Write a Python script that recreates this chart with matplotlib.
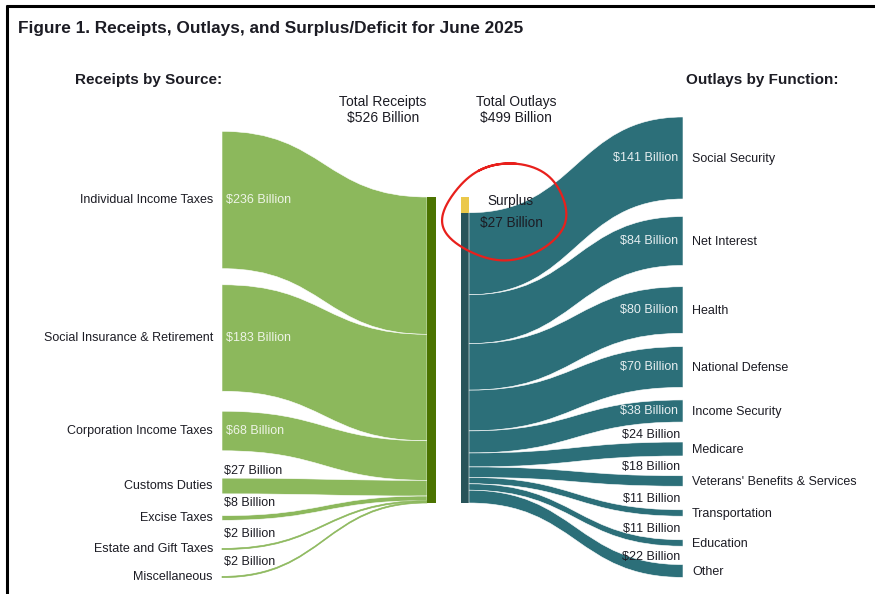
import numpy as np
import matplotlib
matplotlib.use("Agg")
import matplotlib.pyplot as plt
from matplotlib.path import Path
from matplotlib.patches import PathPatch, Rectangle

plt.rcParams['font.family'] = ['Liberation Sans', 'DejaVu Sans']

# Data (billions of dollars)
receipt_names = ["Individual Income Taxes", "Social Insurance & Retirement",
                 "Corporation Income Taxes", "Customs Duties", "Excise Taxes",
                 "Estate and Gift Taxes", "Miscellaneous"]
receipt_vals = [236, 183, 68, 27, 8, 2, 2]

outlay_names = ["Social Security", "Net Interest", "Health", "National Defense",
                "Income Security", "Medicare", "Veterans' Benefits & Services",
                "Transportation", "Education", "Other"]
outlay_vals = [141, 84, 80, 70, 38, 24, 18, 11, 11, 22]

total_receipts = 526
total_outlays = 499
surplus = 27

# layout (pixel space): node centres for each side
left_centres = [200, 338, 431, 486, 518, 549, 577]
right_centres = [158, 241, 310, 367, 411, 449, 481, 513, 543, 571]

green = '#8cb85c'
dark_green = '#4b7300'
teal = '#2c6f79'
dark_teal = '#28545a'
yellow = '#ebc84a'
txt = '#1c1c24'

fig = plt.figure(figsize=(8.75, 5.94), dpi=100)
ax = fig.add_axes([0, 0, 1, 1])
ax.set_xlim(0, 875)
ax.set_ylim(594, 0)
ax.axis('off')

bar_top, bar_bot = 197, 503
s = (bar_bot - bar_top) / total_receipts  # px per billion


def band(x0, a0, b0, x1, a1, b1, color):
    xm = (x0 + x1) / 2
    verts = [(x0, a0), (xm, a0), (xm, a1), (x1, a1),
             (x1, b1), (xm, b1), (xm, b0), (x0, b0), (x0, a0)]
    codes = [Path.MOVETO, Path.CURVE4, Path.CURVE4, Path.CURVE4,
             Path.LINETO, Path.CURVE4, Path.CURVE4, Path.CURVE4, Path.CLOSEPOLY]
    thin = abs(b0 - a0) < 3
    ax.add_patch(PathPatch(Path(verts, codes), facecolor=color,
                           edgecolor=color if thin else 'white',
                           lw=0.5 if thin else 0.4))


# receipts side
xl0, xl1 = 222, 427
y = bar_top
for name, v, c in zip(receipt_names, receipt_vals, left_centres):
    h = v * s
    band(xl0, c - h / 2, c + h / 2, xl1, y, y + h, green)
    y += h
    ax.text(213, c, name, ha='right', va='center', fontsize=9, color=txt)
    if v >= 50:
        ax.text(226, c, f"${v} Billion", ha='left', va='center',
                fontsize=9, color='#eef4e6')
    else:
        ax.text(224, min(c - 9, c - h / 2 - 1), f"${v} Billion", ha='left',
                va='bottom', fontsize=9, color=txt)

ax.add_patch(Rectangle((427, bar_top), 9, total_receipts * s,
                       facecolor=dark_green, edgecolor='none'))

# outlays side
xr0, xr1 = 469, 683
ax.add_patch(Rectangle((461, bar_top), 8, surplus * s,
                       facecolor=yellow, edgecolor='none'))
ax.add_patch(Rectangle((461, bar_top + surplus * s), 8, total_outlays * s,
                       facecolor=dark_teal, edgecolor='none'))
y = bar_top + surplus * s
for name, v, c in zip(outlay_names, outlay_vals, right_centres):
    h = v * s
    band(xr0, y, y + h, xr1, c - h / 2, c + h / 2, teal)
    y += h
    if v >= 30:
        ax.text(678, c, f"${v} Billion", ha='right', va='center',
                fontsize=9, color='#e6eef0')
    else:
        ax.text(680, min(c - 8, c - h / 2 - 1), f"${v} Billion", ha='right',
                va='bottom', fontsize=9, color=txt)
    ax.text(692, c + 1, name, ha='left', va='center', fontsize=9, color=txt)

# headings
ax.text(18, 28, "Figure 1. Receipts, Outlays, and Surplus/Deficit for June 2025",
        ha='left', va='center', fontsize=12.4, fontweight='bold', color=txt)
ax.text(75, 80, "Receipts by Source:", ha='left', va='center',
        fontsize=11, fontweight='bold', color=txt)
ax.text(838, 80, "Outlays by Function:", ha='right', va='center',
        fontsize=11, fontweight='bold', color=txt)
ax.text(383, 110, f"Total Receipts\n${total_receipts} Billion", ha='center',
        va='center', fontsize=10, linespacing=1.15, color=txt)
ax.text(516, 110, f"Total Outlays\n${total_outlays} Billion", ha='center',
        va='center', fontsize=10, linespacing=1.15, color=txt)
ax.text(511, 212, f"Surplus\n${surplus} Billion", ha='center', va='center',
        fontsize=9.8, linespacing=1.75, color=txt)

# hand-drawn red ring round the surplus note
t = np.linspace(-0.35, 2 * np.pi + 0.25, 300)
rx = 62 * (1 + 0.05 * np.sin(3 * t + 0.6))
ry = 46 * (1 + 0.05 * np.cos(2 * t))
ang = np.deg2rad(-8)
ex, ey = rx * np.sin(t), -ry * np.cos(t)
ax.plot(506 + ex * np.cos(ang) - ey * np.sin(ang),
        212 + ex * np.sin(ang) + ey * np.cos(ang),
        color='#e8201c', lw=1.6)

# frame
ax.plot([6, 875], [6, 6], color='black', lw=2.2, solid_capstyle='butt')
ax.plot([7, 7], [5, 594], color='black', lw=2.2, solid_capstyle='butt')

fig.savefig('out.png', dpi=100)
